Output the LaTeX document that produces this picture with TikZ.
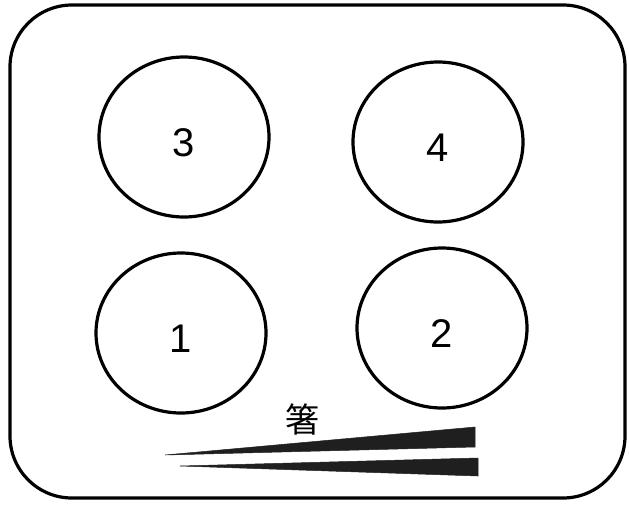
\documentclass[tikz,border=0pt]{standalone}
\usepackage{fontspec}
\setmainfont{Liberation Sans}
\newfontfamily\cjk{Noto Sans CJK JP}
\usetikzlibrary{shapes.geometric}

\begin{document}
\begin{tikzpicture}[
  x=1pt, y=-1pt,
  tray/.style={draw, line width=3.2pt, rounded corners=62pt},
  dish/.style={ellipse, draw, line width=3.2pt,
               minimum width=170pt, minimum height=160pt, inner sep=0pt},
  num/.style={font=\fontsize{40}{40}\selectfont, yshift=-6pt},
  stick/.style={fill=black!88, draw=black!88, line width=0.5pt}
]
  \useasboundingbox (0,0) rectangle (629,504);

  % tray
  \draw[tray] (10,5) rectangle (625,498);

  % dishes
  \node[dish, label={[num]center:3}] (d3) at (184,137) {};
  \node[dish, label={[num]center:4}] (d4) at (438,142) {};
  \node[dish, label={[num]center:1}] (d1) at (181,333) {};
  \node[dish, label={[num]center:2}] (d2) at (442,328) {};

  % chopsticks
  \node[font=\cjk\fontsize{34}{34}\selectfont] (hashi) at (302,419) {箸};
  \fill[stick] (165,455) -- (475,427) -- (475,447) -- cycle;
  \fill[stick] (180,466) -- (478,458) -- (478,476) -- cycle;

\end{tikzpicture}
\end{document}
